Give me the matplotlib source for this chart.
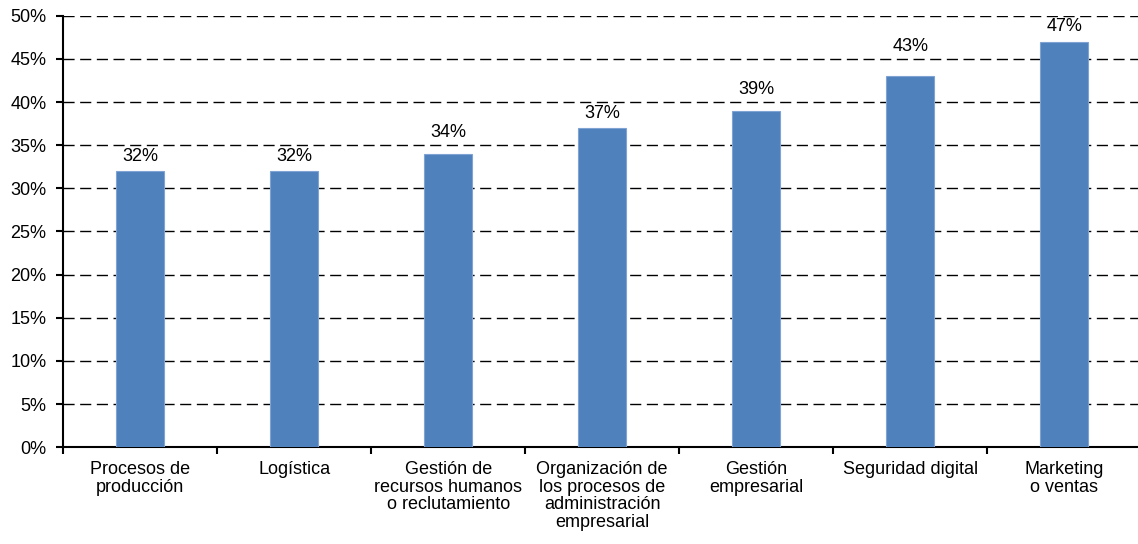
import numpy as np
import matplotlib.pyplot as plt
from matplotlib.ticker import FuncFormatter, FixedLocator

plt.rcParams['font.family'] = ['Liberation Sans', 'DejaVu Sans']

# Áreas y porcentaje de empresas
areas = ['Procesos de\nproducción', 'Logística', 'Gestión de\nrecursos humanos\no reclutamiento',
         'Organización de\nlos procesos de\nadministración\nempresarial', 'Gestión\nempresarial',
         'Seguridad digital', 'Marketing\no ventas']
porcentajes = [32, 32, 34, 37, 39, 43, 47]
yticks = [0, 5, 10, 15, 20, 25, 30, 35, 40, 45, 50]

fig = plt.figure(figsize=(11.38, 5.44), dpi=100)
ax = fig.add_axes([0.0554, 0.178, 0.9475, 0.793])

x = np.arange(len(areas))
bars = ax.bar(x, porcentajes, width=0.31, color='#4F81BD', edgecolor='#7FA3D3', linewidth=0.8, zorder=3)

# etiquetas: si la línea de la cuadrícula queda muy cerca, se suben por encima de ella
for b, v in zip(bars, porcentajes):
    base, dy = v, 4.5
    siguiente = (v // 5 + 1) * 5
    if siguiente - v <= 2.5:
        base, dy = siguiente, 3
    ax.annotate(f'{v}%', (b.get_x() + b.get_width() / 2, base), xytext=(0, dy),
                textcoords='offset points', ha='center', va='bottom', fontsize=13, zorder=4)

ax.set_ylim(0, 50)
ax.set_xlim(-0.5, len(areas) - 0.5)
ax.set_yticks(yticks)
ax.yaxis.set_major_formatter(FuncFormatter(lambda v, p: f'{v:.0f}%'))
ax.yaxis.grid(True, linestyle=(0, (8, 4)), color='black', linewidth=1, zorder=0)

ax.set_xticks(x)
ax.set_xticklabels(areas, fontsize=13, linespacing=1.05)
ax.xaxis.set_minor_locator(FixedLocator(np.arange(-0.5, len(areas), 1.0)))
ax.tick_params(axis='x', which='major', length=0, pad=10)
ax.tick_params(axis='x', which='minor', length=5, width=1.5, direction='out')
ax.tick_params(axis='y', length=5, width=1.5, labelsize=13, pad=7)

for s in ['top', 'right']:
    ax.spines[s].set_visible(False)
ax.spines['left'].set_linewidth(1.5)
ax.spines['bottom'].set_linewidth(1.5)

fig.savefig('out.png', dpi=100)
